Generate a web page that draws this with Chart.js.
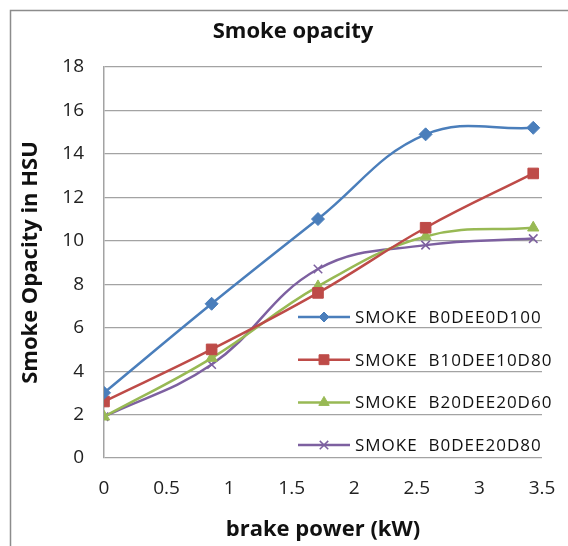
<!DOCTYPE html>
<html>
<head>
<meta charset="utf-8">
<script src="https://cdn.jsdelivr.net/npm/chart.js@4/dist/chart.umd.min.js"></script>
<style>
  html, body { margin: 0; padding: 0; background: #fff; }
  #wrap { width: 568px; height: 546px; }
</style>
</head>
<body>
<div id="wrap"><canvas id="chart"></canvas></div>
<script>
// brake power (kW) at each load step
const power = [0, 0.86, 1.71, 2.57, 3.43];

// smoke opacity (HSU) per blend
const smokeB0DEE0D100 = [3.0, 7.1, 11.0, 14.9, 15.2];
const smokeB10DEE10D80 = [2.6, 5.0, 7.6, 10.6, 13.1];
const smokeB20DEE20D60 = [1.9, 4.6, 7.9, 10.2, 10.6];
const smokeB0DEE20D80 = [1.9, 4.3, 8.7, 9.8, 10.1];

const seriesNames = ['SMOKE  B0DEE0D100', 'SMOKE  B10DEE10D80', 'SMOKE  B20DEE20D60', 'SMOKE  B0DEE20D80'];
const seriesValues = [smokeB0DEE0D100, smokeB10DEE10D80, smokeB20DEE20D60, smokeB0DEE20D80];

const colors = ['#4a7ebb', '#be4b48', '#98b954', '#7d60a0'];
const markers = ['rectRot', 'rect', 'triangle', 'crossRot'];
const markerSizes = [6.5, 7.5, 6.5, 6];
const legendMarkerSizes = [5, 7, 6, 6];

const FONT = '"Open Sans", "Noto Sans", sans-serif';
const GRID = '#a3a3a3';

const datasets = seriesValues.map((vals, i) => ({
  label: seriesNames[i],
  data: vals.map((v, j) => ({ x: power[j], y: v })),
  borderColor: colors[i],
  backgroundColor: colors[i],
  borderWidth: 2.5,
  tension: 0.4,
  pointStyle: markers[i],
  pointRadius: markerSizes[i],
  pointBorderWidth: i === 3 ? 1.5 : 1,
  pointBorderColor: colors[i],
}));

// outer frame (left + top edges) and the chart heading
const framePlugin = {
  id: 'frame',
  beforeDraw(chart) {
    const ctx = chart.ctx;
    ctx.save();
    ctx.strokeStyle = '#8c8c8c';
    ctx.lineWidth = 1.5;
    ctx.beginPath();
    ctx.moveTo(10.5, chart.height);
    ctx.lineTo(10.5, 10.5);
    ctx.lineTo(chart.width, 10.5);
    ctx.stroke();

    ctx.fillStyle = '#111';
    ctx.font = 'bold 22px ' + FONT;
    ctx.textAlign = 'center';
    ctx.textBaseline = 'middle';
    ctx.fillText('Smoke opacity', 293, 32);
    ctx.restore();
  }
};

// legend drawn inside the plot, bottom right
const innerLegend = {
  id: 'innerLegend',
  afterDatasetsDraw(chart) {
    const ctx = chart.ctx;
    const area = chart.chartArea;
    const x0 = area.left + 194;
    ctx.save();
    chart.data.datasets.forEach((ds, i) => {
      const y = area.bottom - 141 + i * 42.7;
      ctx.strokeStyle = ds.borderColor;
      ctx.fillStyle = ds.borderColor;
      ctx.lineWidth = 2.5;
      ctx.beginPath();
      ctx.moveTo(x0, y);
      ctx.lineTo(x0 + 52, y);
      ctx.stroke();
      ctx.lineWidth = ds.pointBorderWidth;
      Chart.helpers.drawPoint(ctx, {
        pointStyle: ds.pointStyle,
        radius: legendMarkerSizes[i],
        borderWidth: ds.pointBorderWidth,
        rotation: 0
      }, x0 + 26, y);
      ctx.fillStyle = '#111';
      ctx.font = '17px ' + FONT;
      ctx.textAlign = 'left';
      ctx.textBaseline = 'middle';
      ctx.letterSpacing = '1px';
      ctx.fillText(ds.label, x0 + 57, y + 1);
      ctx.letterSpacing = '0px';
    });
    ctx.restore();
  }
};

const tickFont = { family: FONT, size: 19 };
const axisTitleFont = { family: FONT, size: 22, weight: 'bold' };

new Chart(document.getElementById('chart'), {
  type: 'line',
  data: { datasets },
  options: {
    responsive: true,
    maintainAspectRatio: false,
    animation: false,
    layout: { padding: { left: 10, right: 26, top: 67, bottom: 3 } },
    plugins: {
      legend: { display: false },
      tooltip: { enabled: false },
      title: { display: false }
    },
    scales: {
      x: {
        type: 'linear',
        min: 0,
        max: 3.5,
        afterFit: (scale) => {
          scale.height = 85;
          scale.paddingLeft = 0;
          scale.paddingRight = 0;
        },
        ticks: {
          stepSize: 0.5,
          color: '#222',
          font: tickFont,
          padding: 19,
          callback: (v) => String(v)
        },
        grid: { display: false, drawTicks: false },
        border: { display: false },
        title: {
          display: true,
          text: 'brake power (kW)',
          color: '#111',
          font: axisTitleFont,
          padding: { top: 15, bottom: 0 }
        }
      },
      y: {
        min: 0,
        max: 18,
        afterFit: (scale) => { scale.width = 94; },
        ticks: { stepSize: 2, color: '#222', font: tickFont, padding: 20 },
        grid: { color: GRID, lineWidth: 1.2, drawTicks: false },
        border: { display: true, color: GRID, width: 1.5 },
        title: {
          display: true,
          text: 'Smoke Opacity in HSU',
          color: '#111',
          font: axisTitleFont,
          padding: { top: 8, bottom: 18 }
        }
      }
    }
  },
  plugins: [framePlugin, innerLegend]
});
</script>
</body>
</html>
